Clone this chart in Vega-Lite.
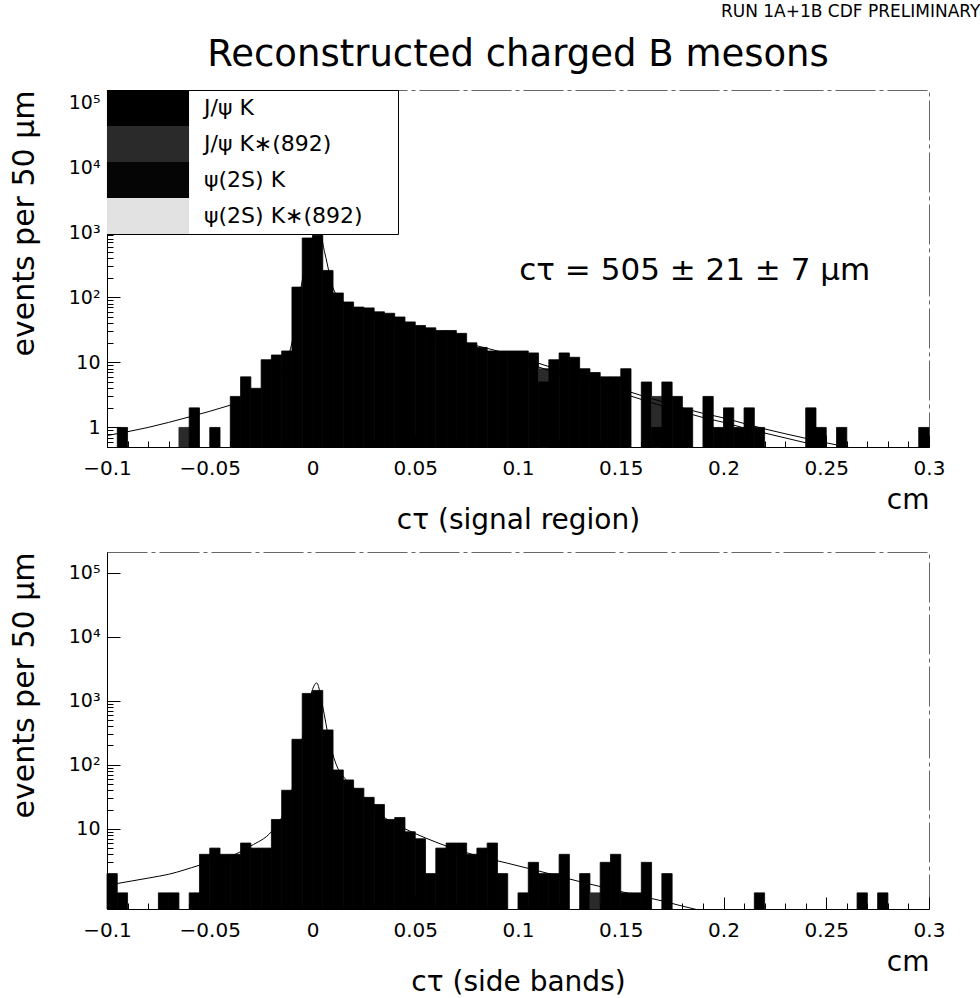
{
  "$schema": "https://vega.github.io/schema/vega-lite/v6.json",
  "background": "white",
  "padding": {"left": 8, "top": 2, "right": 5, "bottom": 2},
  "title": {"text": "RUN 1A+1B CDF PRELIMINARY", "anchor": "end", "fontSize": 17, "fontWeight": "normal", "font": "DejaVu Sans", "color": "black", "offset": 15, "dx": 35},
  "config": {
    "view": {"stroke": "#666", "strokeDash": [40, 4, 4, 4]},
    "font": "DejaVu Sans",
    "axis": {"grid": false, "labelColor": "black", "tickColor": "black", "domainColor": "black", "titleColor": "black", "titleFontWeight": "normal", "labelFlush": false, "labelOverlap": false}
  },
  "spacing": 16,
  "datasets": {
    "top": [
      {"x0": -0.095, "x1": -0.09, "n": 1, "ch": "J/ψ K"},
      {"x0": -0.065, "x1": -0.06, "n": 1, "ch": "J/ψ K∗(892)"},
      {"x0": -0.06, "x1": -0.055, "n": 2, "ch": "J/ψ K"},
      {"x0": -0.05, "x1": -0.045, "n": 1, "ch": "J/ψ K"},
      {"x0": -0.04, "x1": -0.035, "n": 3, "ch": "J/ψ K"},
      {"x0": -0.035, "x1": -0.03, "n": 6, "ch": "J/ψ K"},
      {"x0": -0.03, "x1": -0.025, "n": 4, "ch": "J/ψ K"},
      {"x0": -0.025, "x1": -0.02, "n": 11, "ch": "J/ψ K"},
      {"x0": -0.02, "x1": -0.015, "n": 13, "ch": "J/ψ K"},
      {"x0": -0.015, "x1": -0.01, "n": 15, "ch": "J/ψ K"},
      {"x0": -0.01, "x1": -0.005, "n": 144, "ch": "J/ψ K"},
      {"x0": -0.005, "x1": 0, "n": 820, "ch": "J/ψ K"},
      {"x0": 0, "x1": 0.005, "n": 900, "ch": "J/ψ K"},
      {"x0": 0.005, "x1": 0.01, "n": 260, "ch": "J/ψ K"},
      {"x0": 0.01, "x1": 0.015, "n": 117, "ch": "J/ψ K"},
      {"x0": 0.015, "x1": 0.02, "n": 85, "ch": "J/ψ K"},
      {"x0": 0.02, "x1": 0.025, "n": 71, "ch": "J/ψ K"},
      {"x0": 0.025, "x1": 0.03, "n": 69, "ch": "J/ψ K"},
      {"x0": 0.03, "x1": 0.035, "n": 60, "ch": "J/ψ K"},
      {"x0": 0.035, "x1": 0.04, "n": 57, "ch": "J/ψ K"},
      {"x0": 0.04, "x1": 0.045, "n": 50, "ch": "J/ψ K"},
      {"x0": 0.045, "x1": 0.05, "n": 42, "ch": "J/ψ K"},
      {"x0": 0.05, "x1": 0.055, "n": 37, "ch": "J/ψ K"},
      {"x0": 0.055, "x1": 0.06, "n": 34, "ch": "J/ψ K"},
      {"x0": 0.06, "x1": 0.065, "n": 31, "ch": "J/ψ K"},
      {"x0": 0.065, "x1": 0.07, "n": 31, "ch": "J/ψ K"},
      {"x0": 0.07, "x1": 0.075, "n": 28, "ch": "J/ψ K"},
      {"x0": 0.075, "x1": 0.08, "n": 20, "ch": "J/ψ K"},
      {"x0": 0.08, "x1": 0.085, "n": 17, "ch": "J/ψ K"},
      {"x0": 0.085, "x1": 0.09, "n": 15, "ch": "J/ψ K"},
      {"x0": 0.09, "x1": 0.095, "n": 15, "ch": "J/ψ K"},
      {"x0": 0.095, "x1": 0.1, "n": 15, "ch": "J/ψ K"},
      {"x0": 0.1, "x1": 0.105, "n": 15, "ch": "J/ψ K"},
      {"x0": 0.105, "x1": 0.11, "n": 14, "ch": "J/ψ K"},
      {"x0": 0.11, "x1": 0.115, "n": 8, "ch": "J/ψ K∗(892)"},
      {"x0": 0.11, "x1": 0.115, "n": 5, "ch": "J/ψ K"},
      {"x0": 0.115, "x1": 0.12, "n": 11, "ch": "J/ψ K"},
      {"x0": 0.12, "x1": 0.125, "n": 14, "ch": "J/ψ K"},
      {"x0": 0.125, "x1": 0.13, "n": 12, "ch": "J/ψ K"},
      {"x0": 0.13, "x1": 0.135, "n": 8, "ch": "J/ψ K"},
      {"x0": 0.135, "x1": 0.14, "n": 7, "ch": "J/ψ K"},
      {"x0": 0.14, "x1": 0.145, "n": 6, "ch": "J/ψ K"},
      {"x0": 0.145, "x1": 0.15, "n": 6, "ch": "J/ψ K"},
      {"x0": 0.15, "x1": 0.155, "n": 8, "ch": "J/ψ K"},
      {"x0": 0.16, "x1": 0.165, "n": 5, "ch": "J/ψ K"},
      {"x0": 0.165, "x1": 0.17, "n": 3, "ch": "J/ψ K∗(892)"},
      {"x0": 0.165, "x1": 0.17, "n": 1, "ch": "J/ψ K"},
      {"x0": 0.17, "x1": 0.175, "n": 5, "ch": "J/ψ K"},
      {"x0": 0.175, "x1": 0.18, "n": 3, "ch": "J/ψ K"},
      {"x0": 0.18, "x1": 0.185, "n": 2, "ch": "J/ψ K"},
      {"x0": 0.19, "x1": 0.195, "n": 3, "ch": "J/ψ K"},
      {"x0": 0.195, "x1": 0.2, "n": 1, "ch": "J/ψ K"},
      {"x0": 0.2, "x1": 0.205, "n": 2, "ch": "J/ψ K"},
      {"x0": 0.205, "x1": 0.21, "n": 1, "ch": "J/ψ K"},
      {"x0": 0.21, "x1": 0.215, "n": 2, "ch": "J/ψ K"},
      {"x0": 0.215, "x1": 0.22, "n": 1, "ch": "J/ψ K"},
      {"x0": 0.24, "x1": 0.245, "n": 2, "ch": "J/ψ K"},
      {"x0": 0.245, "x1": 0.25, "n": 1, "ch": "J/ψ K"},
      {"x0": 0.255, "x1": 0.26, "n": 1, "ch": "J/ψ K"},
      {"x0": 0.295, "x1": 0.3, "n": 1, "ch": "J/ψ K"}
    ],
    "bottom": [
      {"x0": -0.1, "x1": -0.095, "n": 2, "ch": "J/ψ K"},
      {"x0": -0.095, "x1": -0.09, "n": 1, "ch": "J/ψ K"},
      {"x0": -0.075, "x1": -0.07, "n": 1, "ch": "J/ψ K"},
      {"x0": -0.07, "x1": -0.065, "n": 1, "ch": "J/ψ K"},
      {"x0": -0.06, "x1": -0.055, "n": 1, "ch": "J/ψ K"},
      {"x0": -0.055, "x1": -0.05, "n": 4, "ch": "J/ψ K"},
      {"x0": -0.05, "x1": -0.045, "n": 5, "ch": "J/ψ K"},
      {"x0": -0.045, "x1": -0.04, "n": 4, "ch": "J/ψ K"},
      {"x0": -0.04, "x1": -0.035, "n": 4, "ch": "J/ψ K"},
      {"x0": -0.035, "x1": -0.03, "n": 6, "ch": "J/ψ K"},
      {"x0": -0.03, "x1": -0.025, "n": 5, "ch": "J/ψ K"},
      {"x0": -0.025, "x1": -0.02, "n": 5, "ch": "J/ψ K"},
      {"x0": -0.02, "x1": -0.015, "n": 14, "ch": "J/ψ K"},
      {"x0": -0.015, "x1": -0.01, "n": 40, "ch": "J/ψ K"},
      {"x0": -0.01, "x1": -0.005, "n": 250, "ch": "J/ψ K"},
      {"x0": -0.005, "x1": 0, "n": 1300, "ch": "J/ψ K"},
      {"x0": 0, "x1": 0.005, "n": 1450, "ch": "J/ψ K"},
      {"x0": 0.005, "x1": 0.01, "n": 350, "ch": "J/ψ K"},
      {"x0": 0.01, "x1": 0.015, "n": 83, "ch": "J/ψ K"},
      {"x0": 0.015, "x1": 0.02, "n": 58, "ch": "J/ψ K"},
      {"x0": 0.02, "x1": 0.025, "n": 43, "ch": "J/ψ K"},
      {"x0": 0.025, "x1": 0.03, "n": 31, "ch": "J/ψ K"},
      {"x0": 0.03, "x1": 0.035, "n": 24, "ch": "J/ψ K"},
      {"x0": 0.035, "x1": 0.04, "n": 14, "ch": "J/ψ K"},
      {"x0": 0.04, "x1": 0.045, "n": 15, "ch": "J/ψ K"},
      {"x0": 0.045, "x1": 0.05, "n": 9, "ch": "J/ψ K"},
      {"x0": 0.05, "x1": 0.055, "n": 7, "ch": "J/ψ K"},
      {"x0": 0.055, "x1": 0.06, "n": 2, "ch": "J/ψ K"},
      {"x0": 0.06, "x1": 0.065, "n": 5, "ch": "J/ψ K"},
      {"x0": 0.065, "x1": 0.07, "n": 6, "ch": "J/ψ K"},
      {"x0": 0.07, "x1": 0.075, "n": 6, "ch": "J/ψ K"},
      {"x0": 0.075, "x1": 0.08, "n": 4, "ch": "J/ψ K"},
      {"x0": 0.08, "x1": 0.085, "n": 5, "ch": "J/ψ K"},
      {"x0": 0.085, "x1": 0.09, "n": 6, "ch": "J/ψ K"},
      {"x0": 0.09, "x1": 0.095, "n": 2, "ch": "J/ψ K"},
      {"x0": 0.1, "x1": 0.105, "n": 1, "ch": "J/ψ K"},
      {"x0": 0.105, "x1": 0.11, "n": 3, "ch": "J/ψ K"},
      {"x0": 0.11, "x1": 0.115, "n": 2, "ch": "J/ψ K"},
      {"x0": 0.115, "x1": 0.12, "n": 2, "ch": "J/ψ K"},
      {"x0": 0.12, "x1": 0.125, "n": 4, "ch": "J/ψ K"},
      {"x0": 0.13, "x1": 0.135, "n": 2, "ch": "J/ψ K"},
      {"x0": 0.135, "x1": 0.14, "n": 1, "ch": "J/ψ K∗(892)"},
      {"x0": 0.14, "x1": 0.145, "n": 3, "ch": "J/ψ K"},
      {"x0": 0.145, "x1": 0.15, "n": 4, "ch": "J/ψ K"},
      {"x0": 0.15, "x1": 0.155, "n": 1, "ch": "J/ψ K"},
      {"x0": 0.155, "x1": 0.16, "n": 1, "ch": "J/ψ K"},
      {"x0": 0.16, "x1": 0.165, "n": 3, "ch": "J/ψ K"},
      {"x0": 0.17, "x1": 0.175, "n": 2, "ch": "J/ψ K"},
      {"x0": 0.215, "x1": 0.22, "n": 1, "ch": "J/ψ K"},
      {"x0": 0.265, "x1": 0.27, "n": 1, "ch": "J/ψ K"},
      {"x0": 0.275, "x1": 0.28, "n": 1, "ch": "J/ψ K"}
    ],
    "fitTop": [
      {"x": -0.1, "y": 0.75, "c": "a"}, {"x": -0.08, "y": 1.0, "c": "a"}, {"x": -0.06, "y": 1.45, "c": "a"}, {"x": -0.04, "y": 2.2, "c": "a"},
      {"x": -0.03, "y": 2.8, "c": "a"}, {"x": -0.02, "y": 4.0, "c": "a"}, {"x": -0.015, "y": 7, "c": "a"}, {"x": -0.01, "y": 20, "c": "a"},
      {"x": -0.005, "y": 180, "c": "a"}, {"x": 0, "y": 800, "c": "a"}, {"x": 0.003, "y": 1150, "c": "a"}, {"x": 0.006, "y": 480, "c": "a"},
      {"x": 0.01, "y": 140, "c": "a"}, {"x": 0.015, "y": 85, "c": "a"}, {"x": 0.02, "y": 70, "c": "a"}, {"x": 0.03, "y": 55, "c": "a"},
      {"x": 0.04, "y": 43, "c": "a"}, {"x": 0.05, "y": 34, "c": "a"}, {"x": 0.06, "y": 27, "c": "a"}, {"x": 0.07, "y": 22, "c": "a"},
      {"x": 0.08, "y": 18, "c": "a"}, {"x": 0.09, "y": 15, "c": "a"}, {"x": 0.1, "y": 12, "c": "a"}, {"x": 0.11, "y": 9.7, "c": "a"},
      {"x": 0.12, "y": 7.7, "c": "a"}, {"x": 0.13, "y": 6.1, "c": "a"}, {"x": 0.14, "y": 4.8, "c": "a"}, {"x": 0.15, "y": 3.9, "c": "a"},
      {"x": 0.16, "y": 3.1, "c": "a"}, {"x": 0.17, "y": 2.5, "c": "a"}, {"x": 0.18, "y": 2.0, "c": "a"}, {"x": 0.19, "y": 1.65, "c": "a"},
      {"x": 0.2, "y": 1.4, "c": "a"}, {"x": 0.21, "y": 1.15, "c": "a"}, {"x": 0.22, "y": 0.95, "c": "a"}, {"x": 0.23, "y": 0.8, "c": "a"},
      {"x": 0.24, "y": 0.68, "c": "a"}, {"x": 0.25, "y": 0.58, "c": "a"}, {"x": 0.26, "y": 0.5, "c": "a"}, {"x": 0.27, "y": 0.43, "c": "a"},
      {"x": 0.015, "y": 85, "c": "b"}, {"x": 0.02, "y": 65, "c": "b"}, {"x": 0.03, "y": 50, "c": "b"}, {"x": 0.04, "y": 39, "c": "b"},
      {"x": 0.05, "y": 31, "c": "b"}, {"x": 0.06, "y": 24.5, "c": "b"}, {"x": 0.07, "y": 19.5, "c": "b"}, {"x": 0.08, "y": 16, "c": "b"},
      {"x": 0.09, "y": 13, "c": "b"}, {"x": 0.1, "y": 10.5, "c": "b"}, {"x": 0.11, "y": 8.5, "c": "b"}, {"x": 0.12, "y": 6.7, "c": "b"},
      {"x": 0.13, "y": 5.3, "c": "b"}, {"x": 0.14, "y": 4.2, "c": "b"}, {"x": 0.15, "y": 3.4, "c": "b"}, {"x": 0.16, "y": 2.7, "c": "b"},
      {"x": 0.17, "y": 2.15, "c": "b"}, {"x": 0.18, "y": 1.75, "c": "b"}, {"x": 0.19, "y": 1.42, "c": "b"}, {"x": 0.2, "y": 1.2, "c": "b"},
      {"x": 0.21, "y": 0.98, "c": "b"}, {"x": 0.22, "y": 0.82, "c": "b"}, {"x": 0.23, "y": 0.69, "c": "b"}, {"x": 0.24, "y": 0.58, "c": "b"},
      {"x": 0.25, "y": 0.49, "c": "b"}, {"x": 0.26, "y": 0.42, "c": "b"}
    ],
    "fitBottom": [
      {"x": -0.095, "y": 1.4}, {"x": -0.08, "y": 1.7}, {"x": -0.07, "y": 1.95}, {"x": -0.055, "y": 2.7}, {"x": -0.04, "y": 3.7},
      {"x": -0.03, "y": 5.4}, {"x": -0.02, "y": 9}, {"x": -0.015, "y": 15}, {"x": -0.01, "y": 40}, {"x": -0.005, "y": 250},
      {"x": 0, "y": 1500}, {"x": 0.002, "y": 1900}, {"x": 0.005, "y": 800}, {"x": 0.008, "y": 250}, {"x": 0.012, "y": 93},
      {"x": 0.016, "y": 60}, {"x": 0.021, "y": 41}, {"x": 0.028, "y": 24}, {"x": 0.035, "y": 15}, {"x": 0.045, "y": 10},
      {"x": 0.055, "y": 7.2}, {"x": 0.065, "y": 5.4}, {"x": 0.08, "y": 3.8}, {"x": 0.095, "y": 2.9}, {"x": 0.11, "y": 2.2},
      {"x": 0.13, "y": 1.5}, {"x": 0.15, "y": 1.05}, {"x": 0.17, "y": 0.75}, {"x": 0.19, "y": 0.52}, {"x": 0.2, "y": 0.45}
    ]
  },
  "vconcat": [
    {
      "width": 822,
      "height": 357,
      "title": {"text": "Reconstructed charged B mesons", "fontSize": 37, "fontWeight": "normal", "anchor": "middle", "frame": "group", "offset": 16, "color": "black"},
      "layer": [
        {
          "data": {"name": "top"},
          "mark": {"type": "bar", "strokeWidth": 0.8},
          "encoding": {
            "x": {"field": "x0", "type": "quantitative", "scale": {"domain": [-0.1, 0.3], "nice": false, "zero": false},
              "axis": {"orient": "bottom", "values": [-0.1, -0.05, 0, 0.05, 0.1, 0.15, 0.2, 0.25, 0.3], "labelExpr": "format(datum.value, '.2~f')", "ticks": false, "tickSize": 0, "labelPadding": 11, "labelFontSize": 20, "title": "cτ (signal region)", "titleFontSize": 28, "titleBaseline": "middle", "titleY": 73}},
            "x2": {"field": "x1"},
            "y": {"field": "n", "type": "quantitative", "stack": null, "scale": {"type": "log", "domain": [0.5, 155000], "nice": false},
              "axis": {"orient": "left", "values": [1, 10, 100, 1000, 10000, 100000], "labelExpr": "datum.value == 1 ? '1' : datum.value == 10 ? '10' : datum.value == 100 ? '10²' : datum.value == 1000 ? '10³' : datum.value == 10000 ? '10⁴' : '10⁵'", "ticks": false, "tickSize": 0, "labelPadding": 7, "labelFontSize": 19, "title": "events per 50 μm", "titleFontSize": 30, "titleAnchor": "end", "titlePadding": 29}},
            "y2": {"datum": 0.5},
            "color": {"field": "ch", "type": "nominal",
              "scale": {"domain": ["J/ψ K", "J/ψ K∗(892)", "ψ(2S) K", "ψ(2S) K∗(892)"], "range": ["#000000", "#2a2a2a", "#050505", "#e2e2e2"]},
              "legend": {"orient": "none", "legendX": 0, "legendY": 0, "title": null, "padding": 0, "strokeColor": "black", "fillColor": "white", "symbolType": "M-2.28,-1H2.28V1H-2.28Z", "symbolSize": 1296, "symbolStrokeWidth": 0, "symbolOpacity": 1, "symbolOffset": 23, "labelOffset": 38, "labelFontSize": 22, "labelColor": "black", "rowPadding": 0, "labelLimit": 400, "labelExpr": "datum.label + '\u00a0\u00a0\u00a0\u00a0\u00a0\u200b'"}},
            "stroke": {"field": "ch", "type": "nominal",
              "scale": {"domain": ["J/ψ K", "J/ψ K∗(892)", "ψ(2S) K", "ψ(2S) K∗(892)"], "range": ["#000000", "#2a2a2a", "#050505", "#e2e2e2"]},
              "legend": null}
          }
        },
        {
          "data": {"name": "fitTop"},
          "mark": {"type": "line", "color": "black", "strokeWidth": 1, "clip": true, "interpolate": "monotone"},
          "encoding": {
            "x": {"field": "x", "type": "quantitative", "scale": {"domain": [-0.1, 0.3], "nice": false, "zero": false},
              "axis": {"orient": "top", "offset": -357, "zindex": 2, "values": [-0.1, -0.05, 0, 0.05, 0.1, 0.15, 0.2, 0.25, 0.3], "labels": false, "domain": false, "tickSize": 12, "title": "cm", "titleFontSize": 28, "titleX": 822, "titleY": 53, "titleAlign": "right", "titleBaseline": "middle"}},
            "y": {"field": "y", "type": "quantitative", "scale": {"type": "log", "domain": [0.5, 155000], "nice": false},
              "axis": {"orient": "right", "offset": -822, "zindex": 2, "values": [1, 10, 100, 1000, 10000, 100000], "labels": false, "domain": false, "tickSize": 13, "title": null}},
            "detail": {"field": "c"}
          }
        },
        {
          "data": {"values": [{"note": "cτ = 505 ± 21 ± 7 μm"}]},
          "mark": {"type": "text", "fontSize": 31, "color": "black", "align": "center", "baseline": "middle"},
          "encoding": {
            "x": {"datum": 0.186, "type": "quantitative",
              "axis": {"orient": "top", "offset": -357, "zindex": 2, "values": [-0.09, -0.08, -0.07, -0.06, -0.04, -0.03, -0.02, -0.01, 0.01, 0.02, 0.03, 0.04, 0.06, 0.07, 0.08, 0.09, 0.11, 0.12, 0.13, 0.14, 0.16, 0.17, 0.18, 0.19, 0.21, 0.22, 0.23, 0.24, 0.26, 0.27, 0.28, 0.29], "labels": false, "domain": false, "tickSize": 6, "title": null}},
            "y": {"datum": 255, "type": "quantitative",
              "axis": {"orient": "right", "offset": -822, "zindex": 2, "values": [0.6, 0.7, 0.8, 0.9, 2, 3, 4, 5, 6, 7, 8, 9, 20, 30, 40, 50, 60, 70, 80, 90, 200, 300, 400, 500, 600, 700, 800, 900], "labels": false, "domain": false, "tickSize": 6, "title": null}},
            "text": {"field": "note"}
          }
        }
      ],
      "resolve": {"axis": {"x": "independent", "y": "independent"}}
    },
    {
      "width": 822,
      "height": 357,
      "layer": [
        {
          "data": {"name": "bottom"},
          "mark": {"type": "bar", "strokeWidth": 0.8},
          "encoding": {
            "x": {"field": "x0", "type": "quantitative", "scale": {"domain": [-0.1, 0.3], "nice": false, "zero": false},
              "axis": {"orient": "bottom", "values": [-0.1, -0.05, 0, 0.05, 0.1, 0.15, 0.2, 0.25, 0.3], "labelExpr": "format(datum.value, '.2~f')", "ticks": false, "tickSize": 0, "labelPadding": 11, "labelFontSize": 20, "title": "cτ (side bands)", "titleFontSize": 28, "titleBaseline": "middle", "titleY": 73}},
            "x2": {"field": "x1"},
            "y": {"field": "n", "type": "quantitative", "stack": null, "scale": {"type": "log", "domain": [0.56, 210000], "nice": false},
              "axis": {"orient": "left", "values": [10, 100, 1000, 10000, 100000], "labelExpr": "datum.value == 10 ? '10' : datum.value == 100 ? '10²' : datum.value == 1000 ? '10³' : datum.value == 10000 ? '10⁴' : '10⁵'", "ticks": false, "tickSize": 0, "labelPadding": 7, "labelFontSize": 19, "title": "events per 50 μm", "titleFontSize": 30, "titleAnchor": "end", "titlePadding": 29}},
            "y2": {"datum": 0.56},
            "color": {"field": "ch", "type": "nominal",
              "scale": {"domain": ["J/ψ K", "J/ψ K∗(892)", "ψ(2S) K", "ψ(2S) K∗(892)"], "range": ["#000000", "#2a2a2a", "#050505", "#e2e2e2"]},
              "legend": {"orient": "none", "legendX": 0, "legendY": 0, "title": null, "padding": 0, "strokeColor": "black", "fillColor": "white", "symbolType": "M-2.28,-1H2.28V1H-2.28Z", "symbolSize": 1296, "symbolStrokeWidth": 0, "symbolOpacity": 1, "symbolOffset": 23, "labelOffset": 38, "labelFontSize": 22, "labelColor": "black", "rowPadding": 0, "labelLimit": 400, "labelExpr": "datum.label + '\u00a0\u00a0\u00a0\u00a0\u00a0\u200b'"}},
            "stroke": {"field": "ch", "type": "nominal",
              "scale": {"domain": ["J/ψ K", "J/ψ K∗(892)", "ψ(2S) K", "ψ(2S) K∗(892)"], "range": ["#000000", "#2a2a2a", "#050505", "#e2e2e2"]},
              "legend": null}
          }
        },
        {
          "data": {"name": "fitBottom"},
          "mark": {"type": "line", "color": "black", "strokeWidth": 1, "clip": true, "interpolate": "monotone"},
          "encoding": {
            "x": {"field": "x", "type": "quantitative", "scale": {"domain": [-0.1, 0.3], "nice": false, "zero": false},
              "axis": {"orient": "top", "offset": -357, "zindex": 2, "values": [-0.1, -0.05, 0, 0.05, 0.1, 0.15, 0.2, 0.25, 0.3], "labels": false, "domain": false, "tickSize": 12, "title": "cm", "titleFontSize": 28, "titleX": 822, "titleY": 53, "titleAlign": "right", "titleBaseline": "middle"}},
            "y": {"field": "y", "type": "quantitative", "scale": {"type": "log", "domain": [0.56, 210000], "nice": false},
              "axis": {"orient": "right", "offset": -822, "zindex": 2, "values": [1, 10, 100, 1000, 10000, 100000], "labels": false, "domain": false, "tickSize": 13, "title": null}}
          }
        },
        {
          "data": {"name": "fitBottom"},
          "mark": {"type": "point", "opacity": 0},
          "encoding": {
            "x": {"field": "x", "type": "quantitative", "scale": {"domain": [-0.1, 0.3], "nice": false, "zero": false},
              "axis": {"orient": "top", "offset": -357, "zindex": 2, "values": [-0.09, -0.08, -0.07, -0.06, -0.04, -0.03, -0.02, -0.01, 0.01, 0.02, 0.03, 0.04, 0.06, 0.07, 0.08, 0.09, 0.11, 0.12, 0.13, 0.14, 0.16, 0.17, 0.18, 0.19, 0.21, 0.22, 0.23, 0.24, 0.26, 0.27, 0.28, 0.29], "labels": false, "domain": false, "tickSize": 6, "title": null}},
            "y": {"field": "y", "type": "quantitative", "scale": {"type": "log", "domain": [0.56, 210000], "nice": false},
              "axis": {"orient": "right", "offset": -822, "zindex": 2, "values": [0.6, 0.7, 0.8, 0.9, 2, 3, 4, 5, 6, 7, 8, 9, 20, 30, 40, 50, 60, 70, 80, 90, 200, 300, 400, 500, 600, 700, 800, 900], "labels": false, "domain": false, "tickSize": 6, "title": null}}
          }
        }
      ],
      "resolve": {"axis": {"x": "independent", "y": "independent"}}
    }
  ]
}
